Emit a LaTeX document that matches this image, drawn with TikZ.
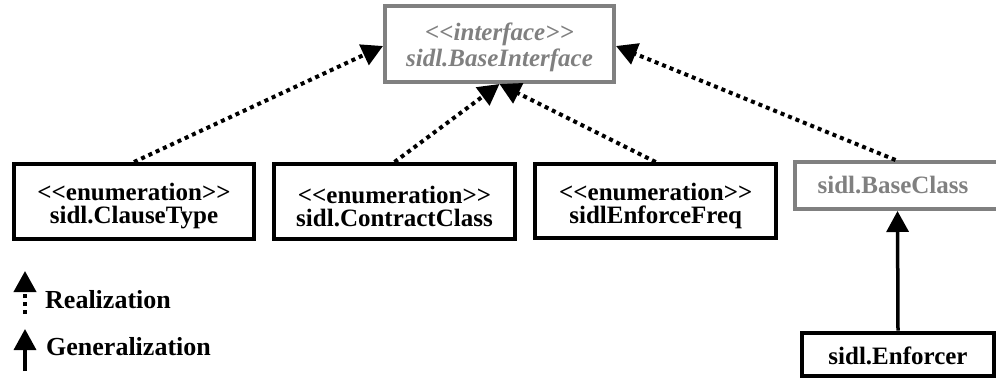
\documentclass[tikz,border=0pt]{standalone}
\usepackage{fontspec}
\setmainfont{Liberation Serif}
\usetikzlibrary{arrows.meta}
% guillemet-free stereotype brackets
\newcommand\stereotype[1]{<\kern0pt<#1>\kern0pt>}
\begin{document}
\begin{tikzpicture}[x=1pt,y=-1pt,
  classbox/.style={draw=black,line width=4pt,inner sep=0pt},
  greybox/.style={classbox,draw=umlgrey},
  classtext/.style={inner sep=0pt,align=center,
    font=\fontsize{25}{23}\selectfont\bfseries},
  greytext/.style={classtext,text=umlgrey},
  realize/.style={line width=4pt,dash pattern=on 4pt off 4pt,
    -{Triangle[length=21pt,width=22pt]}},
  generalize/.style={line width=3.5pt,-{Triangle[length=21pt,width=22pt]}},
  legendtext/.style={font=\fontsize{26}{24}\selectfont\bfseries,inner sep=0pt}]
\definecolor{umlgrey}{RGB}{128,128,128}
\useasboundingbox (0,0) rectangle (996,381);
\clip (0,0) rectangle (996,381);

% interface at the top
\node[greybox,minimum width=229pt,minimum height=76pt] (iface) at (499.5,44) {};
\node[greytext,font=\fontsize{25}{26}\selectfont\bfseries\itshape] (ifacetext)
  at (499.5,47) {\stereotype{interface}\\sidl.BaseInterface};

% enumerations and classes
\node[classbox,minimum width=240pt,minimum height=75pt] (clause) at (134,201.5) {};
\node[classtext] (clausetext) at (134,206) {\stereotype{enumeration}\\sidl.ClauseType};
\node[classbox,minimum width=241pt,minimum height=75pt] (contract) at (394.5,201.5) {};
\node[classtext] (contracttext) at (394.5,206) {\stereotype{enumeration}\\sidl.ContractClass};
\node[classbox,minimum width=241pt,minimum height=74pt] (freq) at (655.7,201) {};
\node[classtext] (freqtext) at (655.7,206) {\stereotype{enumeration}\\sidlEnforceFreq};
\node[greybox,minimum width=205pt,minimum height=47pt] (base) at (897.5,185.5) {};
\node[greytext] (basetext) at (893,184.5) {sidl.BaseClass};
\node[classbox,minimum width=191.5pt,minimum height=43pt] (enforcer) at (898,354) {};
\node[classtext] (enforcertext) at (898,356) {sidl.Enforcer};

% realizations
\draw[realize] (clause.north) -- ([yshift=-2pt]iface.west);
\draw[realize] (contract.north) -- (iface.south);
\draw[realize] (freq.north) -- (iface.south);
\draw[realize] ([xshift=-2pt]base.north) -- ([yshift=-2pt]iface.east);

% generalization
\draw[generalize] (enforcer.north) -- (base.south);

% legend
\coordinate (rfrom) at (25,314);
\coordinate (rto) at (25,271);
\coordinate (gfrom) at (25,371);
\coordinate (gto) at (25,329);
\draw[realize] (rfrom) -- (rto);
\draw[generalize] (gfrom) -- (gto);
\node[legendtext,anchor=base west] (rlabel) at (45,308) {Realization};
\node[legendtext,anchor=base west] (glabel) at (46,355) {Generalization};
\end{tikzpicture}
\end{document}
